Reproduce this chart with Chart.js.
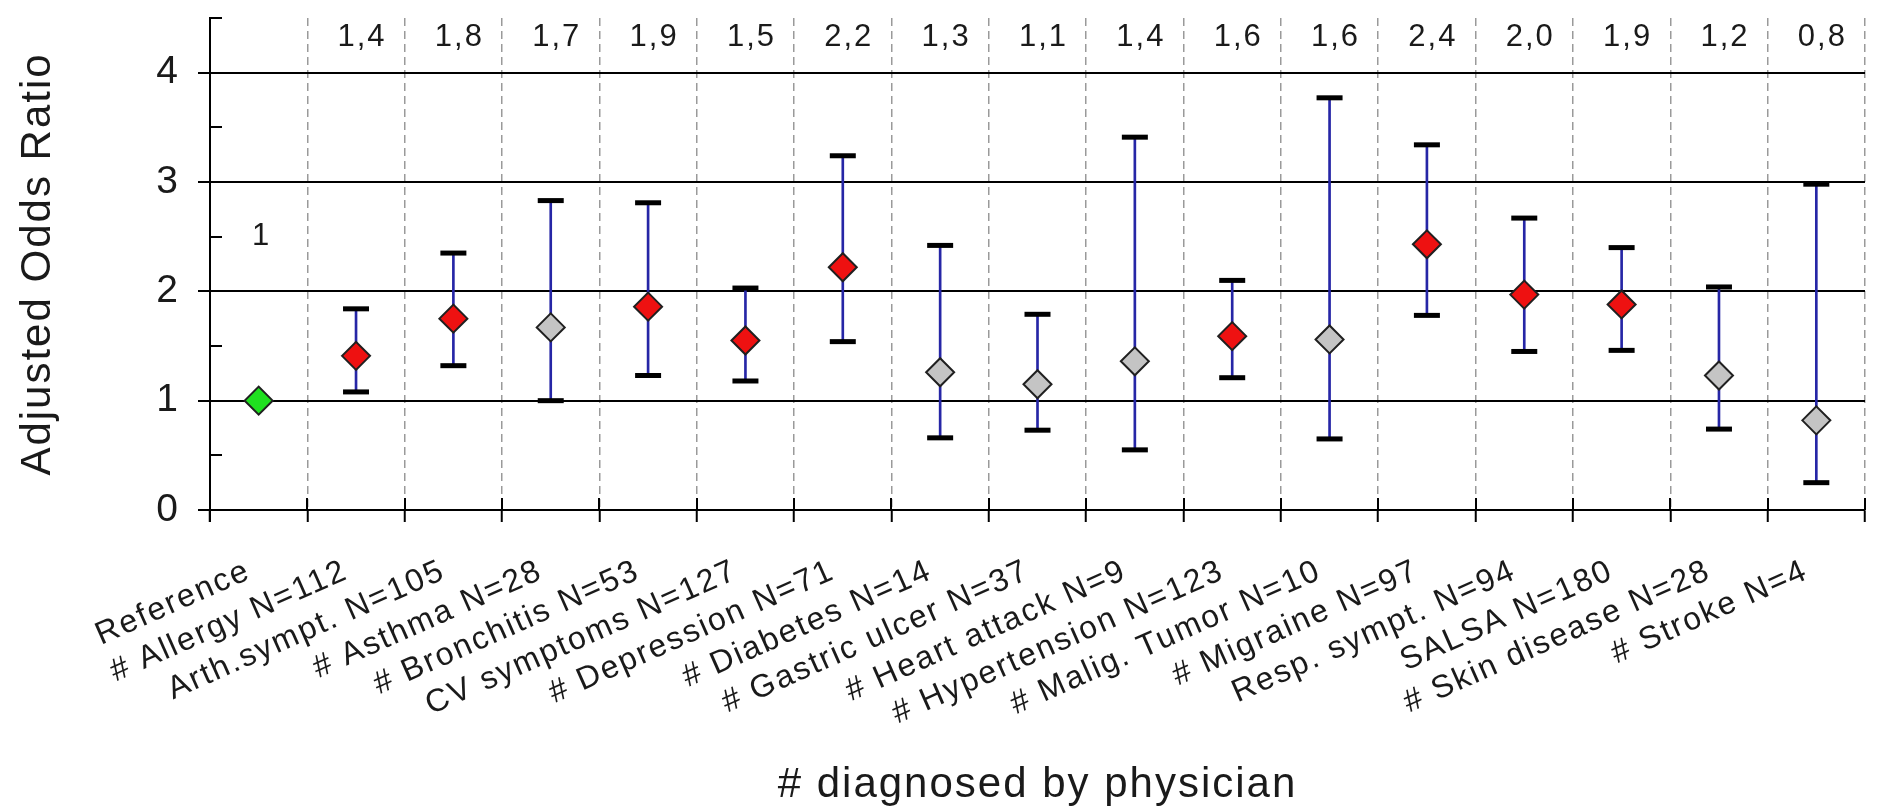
<!DOCTYPE html>
<html>
<head>
<meta charset="utf-8">
<script src="https://cdn.jsdelivr.net/npm/chart.js@4.4.1/dist/chart.umd.min.js"></script>
<style>
  html, body { margin: 0; padding: 0; background: #fff; }
  canvas { display: block; }
</style>
</head>
<body>
<canvas id="orChart" width="1883" height="806"></canvas>
<script>
// --- DATA ---
const categories = [
    'Reference', '# Allergy N=112', 'Arth.sympt. N=105', '# Asthma N=28', '# Bronchitis N=53',
    'CV symptoms N=127', '# Depression N=71', '# Diabetes N=14', '# Gastric ulcer N=37',
    '# Heart attack N=9', '# Hypertension N=123', '# Malig. Tumor N=10', '# Migraine N=97',
    'Resp. sympt. N=94', 'SALSA N=180', '# Skin disease N=28', '# Stroke N=4'
];
const oddsRatio = [1.0, 1.41, 1.75, 1.67, 1.86, 1.55, 2.22, 1.26, 1.15, 1.36, 1.59, 1.56, 2.43, 1.97, 1.88, 1.23, 0.82];
const ciLow  = [null, 1.08, 1.32, 1.00, 1.23, 1.18, 1.54, 0.66, 0.73, 0.55, 1.21, 0.65, 1.78, 1.45, 1.46, 0.74, 0.25];
const ciHigh = [null, 1.84, 2.35, 2.83, 2.81, 2.03, 3.24, 2.42, 1.79, 3.41, 2.10, 3.77, 3.34, 2.67, 2.40, 2.04, 2.98];
const orText = ['1', '1,4', '1,8', '1,7', '1,9', '1,5', '2,2', '1,3', '1,1', '1,4', '1,6', '1,6', '2,4', '2,0', '1,9', '1,2', '0,8'];
// ref = reference group, sig = significant, ns = not significant
const group = ['ref', 'sig', 'sig', 'ns', 'sig', 'sig', 'sig', 'ns', 'ns', 'ns', 'sig', 'ns', 'sig', 'sig', 'sig', 'ns', 'ns'];

// --- STYLE ---
const FONT = '"Liberation Sans", Arial, sans-serif';
const TEXT = '#1a1a1a';
const groupColors = { ref: '#1fe01f', sig: '#ee1111', ns: '#c4c4c4' };

// the original lettering runs wide, so space the glyphs out a little
const wideText = {
    id: 'wideText',
    beforeDraw(chart) {
        chart.ctx.letterSpacing = '2px';
    }
};

// value labels above the plot + minor ticks, drawn off the scales
const extras = {
    id: 'extras',
    afterDatasetsDraw(chart) {
        const { ctx, scales: { x, y } } = chart;
        ctx.save();
        ctx.strokeStyle = '#000';
        ctx.lineWidth = 2;

        // inner minor ticks on the y axis (half steps)
        y.ticks.forEach(t => {
            if (Number.isInteger(t.value)) return;
            const py = Math.round(y.getPixelForValue(t.value));
            ctx.beginPath();
            ctx.moveTo(x.left, py);
            ctx.lineTo(x.left + 12, py);
            ctx.stroke();
        });

        // x ticks cross the axis line
        const half = (x.getPixelForValue(1) - x.getPixelForValue(0)) / 2;
        const y0 = y.getPixelForValue(0);
        for (let i = 0; i < categories.length; i++) {
            const px = Math.round(x.getPixelForValue(i) + half);
            ctx.beginPath();
            ctx.moveTo(px, y0 - 12);
            ctx.lineTo(px, y0);
            ctx.stroke();
        }
        // y axis runs a bit below zero
        ctx.beginPath();
        ctx.moveTo(x.left, y0);
        ctx.lineTo(x.left, y0 + 12);
        ctx.stroke();

        // odds ratio labels
        ctx.fillStyle = TEXT;
        ctx.font = '31px ' + FONT;
        ctx.textAlign = 'center';
        ctx.textBaseline = 'middle';
        orText.forEach((t, i) => {
            const px = x.getPixelForValue(i) + (i === 0 ? 3 : 6);
            const py = y.getPixelForValue(i === 0 ? 2.5 : 4.32);
            ctx.fillText(t, px, py);
        });
        ctx.restore();
    }
};

const ctx = document.getElementById('orChart').getContext('2d');
const orChart = new Chart(ctx, {
    type: 'bar',
    data: {
        labels: categories,
        datasets: [
            {
                // confidence interval whisker
                type: 'bar',
                data: categories.map((c, i) => ciLow[i] === null ? null : [ciLow[i], ciHigh[i]]),
                backgroundColor: '#2626a6',
                borderWidth: 0,
                barThickness: 2,
                order: 3
            },
            {
                type: 'line',
                data: ciHigh,
                showLine: false,
                pointStyle: 'line',
                pointRadius: 13,
                pointHoverRadius: 13,
                pointBorderWidth: 5,
                pointBorderColor: '#000',
                clip: false,
                order: 2
            },
            {
                type: 'line',
                data: ciLow,
                showLine: false,
                pointStyle: 'line',
                pointRadius: 13,
                pointHoverRadius: 13,
                pointBorderWidth: 5,
                pointBorderColor: '#000',
                clip: false,
                order: 2
            },
            {
                type: 'line',
                data: oddsRatio,
                showLine: false,
                pointStyle: 'rectRot',
                pointRadius: 14,
                pointHoverRadius: 14,
                pointBackgroundColor: group.map(g => groupColors[g]),
                pointBorderColor: '#202020',
                pointBorderWidth: 2,
                clip: false,
                order: 1
            }
        ]
    },
    options: {
        responsive: false,
        devicePixelRatio: 1,
        animation: false,
        layout: { padding: { top: 16, right: 0, bottom: 0, left: 0 } },
        plugins: {
            legend: { display: false },
            tooltip: { enabled: false }
        },
        scales: {
            x: {
                offset: true,
                grid: {
                    offset: true,
                    color: '#9a9a9a',
                    lineWidth: 1.5,
                    tickLength: 12,
                    tickColor: '#000',
                    tickWidth: 2,
                    tickBorderDash: []
                },
                border: { color: '#000', width: 2, dash: [8, 5] },
                ticks: {
                    autoSkip: false,
                    minRotation: 24,
                    maxRotation: 24,
                    padding: 30,
                    labelOffset: -10,
                    color: TEXT,
                    font: { family: FONT, size: 32 }
                },
                title: {
                    display: true,
                    text: '# diagnosed by physician',
                    color: TEXT,
                    font: { family: FONT, size: 42, lineHeight: 1 },
                    padding: { top: 0, bottom: 0 }
                },
                afterFit(scale) {
                    scale.height = 296;
                    scale.paddingLeft = 0;
                    scale.paddingRight = 0;
                }
            },
            y: {
                min: 0,
                max: 4.5,
                grid: {
                    color: c => Number.isInteger(c.tick.value) && c.tick.value < 4.5 ? '#000' : 'rgba(0,0,0,0)',
                    lineWidth: 2,
                    tickLength: 12,
                    tickColor: c => Number.isInteger(c.tick.value) ? '#000' : 'rgba(0,0,0,0)',
                    tickWidth: 2
                },
                border: { color: '#000', width: 2 },
                ticks: {
                    stepSize: 0.5,
                    padding: 18,
                    color: TEXT,
                    font: { family: FONT, size: 39 },
                    callback: v => Number.isInteger(v) ? v : ''
                },
                title: {
                    display: true,
                    text: 'Adjusted Odds Ratio',
                    color: TEXT,
                    font: { family: FONT, size: 42, lineHeight: 1 },
                    padding: { top: 17, bottom: 0 }
                },
                afterFit(scale) {
                    scale.width = 210;
                    scale.paddingTop = 0;
                    scale.paddingBottom = 0;
                }
            }
        }
    },
    plugins: [wideText, extras]
});
</script>
</body>
</html>
